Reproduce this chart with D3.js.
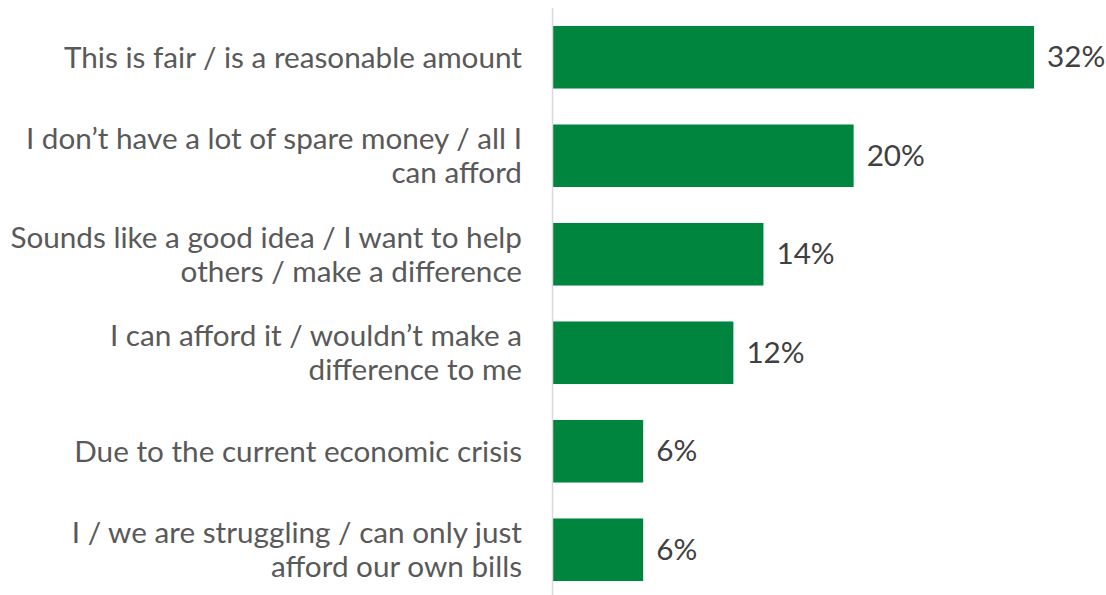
<!DOCTYPE html>
<html>
<head>
<meta charset="utf-8">
<script src="https://cdn.jsdelivr.net/npm/d3@7"></script>
<style>
  html, body { margin: 0; padding: 0; background: #ffffff; }
  svg { display: block; }
  .cat { font-family: Lato, "Open Sans", sans-serif; fill: #595959; }
  .val { font-family: Lato, "Open Sans", sans-serif; fill: #404040; }
</style>
</head>
<body>
<svg id="chart" width="1106" height="595"></svg>
<script>
// Reasons given, top to bottom (line breaks as wrapped in the label column)
const categories = [
  "This is fair / is a reasonable amount",
  "I don\u2019t have a lot of spare money / all I\ncan afford",
  "Sounds like a good idea / I want to help\nothers / make a difference",
  "I can afford it / wouldn\u2019t make a\ndifference to me",
  "Due to the current economic crisis",
  "I / we are struggling / can only just\nafford our own bills"
];
// Share of respondents (%)
const values = [32, 20, 14, 12, 6, 6];
const valueLabels = ["32%", "20%", "14%", "12%", "6%", "6%"];

const svg = d3.select("#chart");
const W = 1106, H = 595;
const axisX = 553;
const fontSize = 29.7;
const lineGap = 34;
const textShift = -1.5;

const y = d3.scaleBand()
  .domain(categories)
  .range([8, 599])
  .paddingInner(0.365)
  .paddingOuter(0.1825);

const x = d3.scaleLinear()
  .domain([0, 32])
  .range([axisX, 1034]);

// Bars
svg.append("g")
  .selectAll("rect")
  .data(values)
  .join("rect")
  .attr("x", x(0))
  .attr("y", (d, i) => y(categories[i]))
  .attr("width", d => x(d) - x(0))
  .attr("height", y.bandwidth())
  .attr("fill", "#00853f");

// Category axis line
svg.append("line")
  .attr("x1", axisX - 0.5).attr("x2", axisX - 0.5)
  .attr("y1", 8).attr("y2", H)
  .attr("stroke", "#d9d9d9")
  .attr("stroke-width", 1.5);

// Category labels, right-aligned against the axis
const cats = svg.append("g")
  .selectAll("text")
  .data(categories)
  .join("text")
  .attr("class", "cat")
  .attr("text-anchor", "end")
  .attr("font-size", fontSize)
  .attr("dominant-baseline", "central");

cats.each(function(d) {
  const lines = d.split("\n");
  const cy = y(d) + y.bandwidth() / 2 + textShift;
  const t = d3.select(this);
  lines.forEach((ln, k) => {
    t.append("tspan")
      .attr("x", 522)
      .attr("y", cy + (k - (lines.length - 1) / 2) * lineGap)
      .text(ln);
  });
});

// Value labels at the end of each bar
svg.append("g")
  .selectAll("text")
  .data(values)
  .join("text")
  .attr("class", "val")
  .attr("font-size", fontSize)
  .attr("dominant-baseline", "central")
  .attr("x", d => x(d) + 13)
  .attr("y", (d, i) => y(categories[i]) + y.bandwidth() / 2 + textShift)
  .text((d, i) => valueLabels[i]);
</script>
</body>
</html>
